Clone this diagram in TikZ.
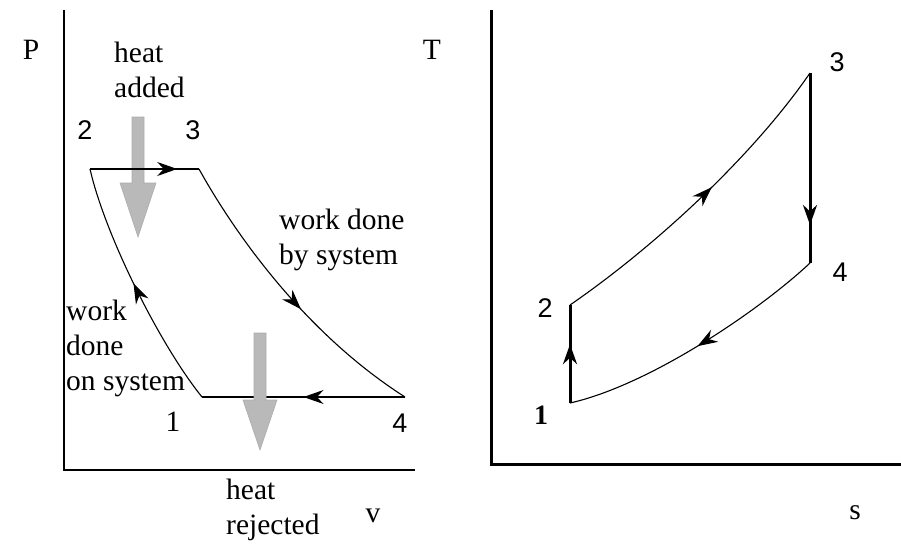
\documentclass[tikz,border=0pt]{standalone}
\usepackage{fontspec}
\setmainfont{Liberation Serif}
\newfontfamily\numfont{Liberation Sans}
\usetikzlibrary{arrows.meta,decorations.markings}
\tikzset{
  thin line/.style={line width=1.1pt},
  thick line/.style={line width=3pt},
  axis/.style={line width=2.2pt},
  midarrow/.style={postaction={decorate},decoration={markings,
     mark=at position #1 with {\arrow{Stealth[length=20pt,width=14pt]}}}},
  lbl/.style={font=\fontsize{29.5}{35}\selectfont, inner sep=0pt},
  num/.style={font=\numfont\fontsize{27}{30}\selectfont, inner sep=0pt},
  heatarrow/.style={fill=gray!55, draw=gray!65, line width=0.6pt}
}
\begin{document}
\begin{tikzpicture}[x=1pt,y=-1pt]
\useasboundingbox (0,0) rectangle (901,554);
% ---------- left P-v diagram ----------
\coordinate (pvo) at (64,470);
\coordinate (pvtop) at (64,10);
\coordinate (pvright) at (415,470);
\draw[axis] (pvtop) -- (pvo) -- (pvright);
\coordinate (p2) at (90,169);
\coordinate (p3) at (199,169);
\coordinate (p4) at (405,397);
\coordinate (p1) at (202,397);
% heat added arrow
\draw[heatarrow] (132,117) -- (144,117) -- (144,183) -- (156,183) -- (138,237)
   -- (120,183) -- (132,183) -- cycle;
\draw[thin line, midarrow=0.8] (p2) -- (p3);
\draw[thin line, midarrow=0.56] (p3) .. controls (230,225) and (300,330) .. (p4);
\draw[thin line, midarrow=0.5] (p4) -- (p1);
\draw[thin line, midarrow=0.52] (p1) .. controls (160,345) and (105,235) .. (p2);
% heat rejected arrow
\draw[heatarrow] (254,333) -- (266,333) -- (266,400) -- (277,400) -- (260,450)
   -- (243,400) -- (254,400) -- cycle;
% labels
\node[lbl] (P) at (31,50) {P};
\node[lbl, anchor=west, align=left] (hadd) at (114,70) {heat\\added};
\node[num] (l2) at (85,130) {2};
\node[num] (l3) at (193,130) {3};
\node[lbl, anchor=west, align=left] (wby) at (279,240) {work done\\by system};
\node[lbl, anchor=west, align=left] (won) at (66,348) {work\\done\\on system};
\node[lbl] (l1) at (173,422) {1};
\node[num] (l4) at (400,423) {4};
\node[lbl, anchor=west, align=left] (hrej) at (226,510) {heat\\rejected};
\node[lbl] (v) at (373,516) {v};
% ---------- right T-s diagram ----------
\coordinate (tso) at (491,464);
\coordinate (tstop) at (491,10);
\coordinate (tsright) at (901,464);
\draw[line width=3pt] (tstop) -- (tso) -- (tsright);
\coordinate (r1) at (570,403);
\coordinate (r2) at (570,305);
\coordinate (r3) at (810,73);
\coordinate (r4) at (810,263);
\draw[thick line, midarrow=0.6] (r1) -- (r2);
\draw[thin line, midarrow=0.55] (r2) .. controls (650,250) and (750,160) .. (r3);
\draw[thick line, midarrow=0.8] (r3) -- (r4);
\draw[thin line, midarrow=0.5] (r4) .. controls (760,310) and (650,385) .. (r1);
\node[lbl] (T) at (432,50) {T};
\node[num] (q3) at (837,62) {3};
\node[num] (q4) at (840,272) {4};
\node[num] (q2) at (545,308) {2};
\node[lbl, font=\bfseries\fontsize{28}{30}\selectfont] (q1) at (541,415) {1};
\node[lbl] (s) at (855,513) {s};
\end{tikzpicture}
\end{document}
